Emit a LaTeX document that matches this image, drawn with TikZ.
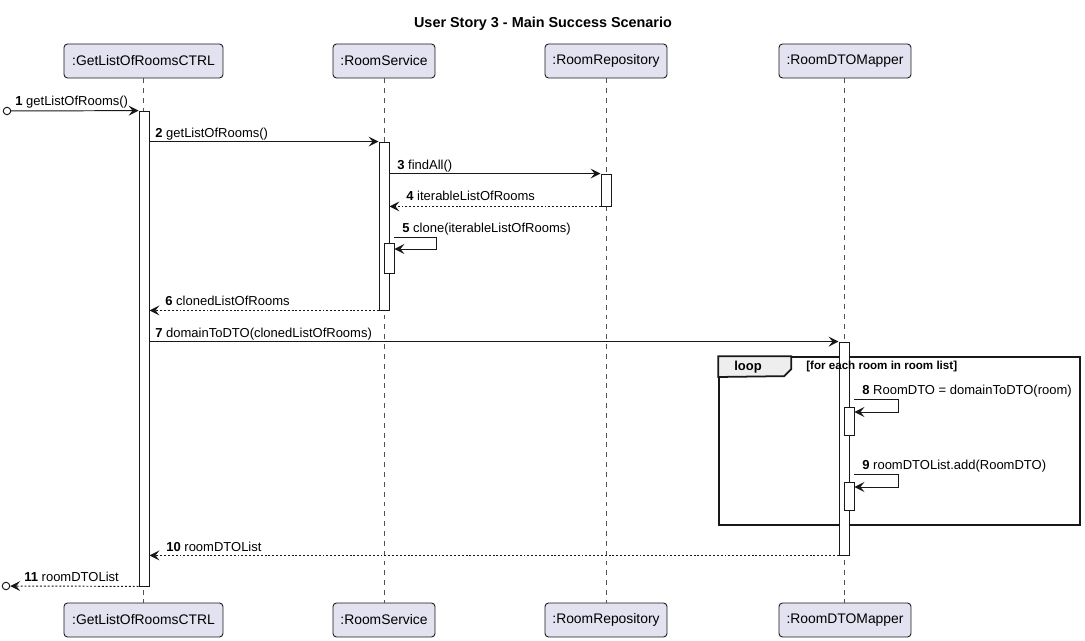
\documentclass[tikz,border=0pt]{standalone}
\usepackage{fontspec}
\setmainfont{Liberation Sans}
\usepackage{xcolor}
\usepackage{tikz}
\usetikzlibrary{shapes,positioning,arrows.meta}
\definecolor{partfill}{HTML}{E2E2F0}
\definecolor{linecol}{HTML}{181818}
\definecolor{tabfill}{HTML}{EEEEEE}
\tikzset{part/.style={rectangle,rounded corners=2pt,draw=linecol,fill=partfill,minimum height=0.68cm,inner sep=0pt,line width=0.5pt,font=\fontsize{7.9}{9}\selectfont}}
\tikzset{act/.style={rectangle,draw=linecol,fill=white,minimum width=0.2cm,inner sep=0pt,line width=0.5pt}}
\tikzset{life/.style={draw=linecol!75,dash pattern=on 2.8pt off 2.8pt,line width=0.4pt}}
\tikzset{msg/.style={draw=linecol,line width=0.55pt,-{Stealth[length=0.2cm,width=0.2cm,inset=0.08cm]}}}
\tikzset{ret/.style={msg,dash pattern=on 1.1pt off 1.1pt}}
\tikzset{lbl/.style={anchor=base west,inner sep=0pt,font=\fontsize{7.4}{9}\selectfont}}
\tikzset{frm/.style={rectangle,draw=linecol,line width=1pt,inner sep=0pt}}
\tikzset{endpt/.style={circle,draw=linecol,fill=white,line width=0.55pt,minimum size=0.15cm,inner sep=0pt}}

\begin{document}
\begin{tikzpicture}[x=0.02cm,y=-0.02cm,>=stealth]
    \useasboundingbox (0,0) rectangle (1085,641);
    \node[font=\bfseries\fontsize{8.2}{10}\selectfont] (title) at (543,24) {User Story 3 - Main Success Scenario};

    % participants
    \node[part,minimum width=3.18cm] (ctrl) at (143.5,61) {:GetListOfRoomsCTRL};
    \node[part,minimum width=2.04cm] (serv) at (384,61) {:RoomService};
    \node[part,minimum width=2.44cm] (repo) at (606,61) {:RoomRepository};
    \node[part,minimum width=2.64cm] (mapr) at (845,61) {:RoomDTOMapper};
    \node[part,minimum width=3.18cm] (ctrlB) at (143.5,620) {:GetListOfRoomsCTRL};
    \node[part,minimum width=2.04cm] (servB) at (384,620) {:RoomService};
    \node[part,minimum width=2.44cm] (repoB) at (606,620) {:RoomRepository};
    \node[part,minimum width=2.64cm] (maprB) at (845,620) {:RoomDTOMapper};

    \draw[life] (143.5,78) -- (ctrlB.north -| 143.5,0);
    \draw[life] (serv) -- (servB);
    \draw[life] (repo) -- (repoB);
    \draw[life] (844,78) -- (maprB.north -| 844,0);

    % loop frame
    \node[frm,minimum width=7.22cm,minimum height=3.36cm] (loopfr) at (899.5,441) {};
    \draw[draw=linecol,fill=tabfill,line width=1pt] (loopfr.north west) -- ++(73,0) -- ++(0,13) -- ++(-7,7) -- (loopfr.north west |- 0,377) -- cycle;
    \node[anchor=west,inner sep=0pt,font=\bfseries\fontsize{7.4}{9}\selectfont] (looptag) at (734,367) {loop};

    % activations
    \node[act,minimum height=9.5cm] (a1) at (144,348.5) {};
    \node[act,minimum height=3.36cm] (a2) at (384,226) {};
    \node[act,minimum height=0.64cm] (a3) at (606,190) {};
    \node[act,minimum height=0.6cm] (a2b) at (389,258) {};
    \node[act,minimum height=4.26cm] (a4) at (844,448.5) {};
    \node[act,minimum height=0.56cm] (a4b) at (849,421) {};
    \node[act,minimum height=0.56cm] (a4c) at (849,496) {};
    \node[anchor=west,inner sep=0pt,font=\bfseries\fontsize{6.6}{8}\selectfont] (guard) at (806,367) {[for each room in room list]};

    % messages
    \node[endpt] (in) at (7,111) {};
    \node[endpt] (out) at (6,586) {};

    \draw[msg] (in) -- (a1.north west);
    \node[lbl] (l1) at (15,106) {\textbf{1} getListOfRooms()};
    \draw[msg] (a1.east |- a2.north) -- (a2.north west);
    \node[lbl] (l2) at (155,138) {\textbf{2} getListOfRooms()};
    \draw[msg] (a2.east |- a3.north) -- (a3.north west);
    \node[lbl] (l3) at (397,170) {\textbf{3} findAll()};
    \draw[ret] (a3.south west) -- (a2.east |- a3.south);
    \node[lbl] (l4) at (406,201) {\textbf{4} iterableListOfRooms};
    \draw[msg] (a2b.east |- 0,237) -- ++(42,0) -- ++(0,12) -- (a2b.east |- 0,249);
    \node[lbl] (l5) at (402,233) {\textbf{5} clone(iterableListOfRooms)};
    \draw[ret] (a2.south west) -- (a1.east |- a2.south);
    \node[lbl] (l6) at (165,306) {\textbf{6} clonedListOfRooms};
    \draw[msg] (a1.east |- a4.north) -- (a4.north west);
    \node[lbl] (l7) at (155,338) {\textbf{7} domainToDTO(clonedListOfRooms)};
    \draw[msg] (a4b.east |- 0,399) -- ++(44,0) -- ++(0,13) -- (a4b.east |- 0,412);
    \node[lbl] (l8) at (862,395) {\textbf{8} RoomDTO = domainToDTO(room)};
    \draw[msg] (a4c.east |- 0,474) -- ++(44,0) -- ++(0,13) -- (a4c.east |- 0,487);
    \node[lbl] (l9) at (862,470) {\textbf{9} roomDTOList.add(RoomDTO)};
    \draw[ret] (a4.south west) -- (a1.east |- a4.south);
    \node[lbl] (l10) at (166,551) {\textbf{10} roomDTOList};
    \draw[ret] (a1.south west) -- (out);
    \node[lbl] (l11) at (24,582) {\textbf{11} roomDTOList};
\end{tikzpicture}
\end{document}
